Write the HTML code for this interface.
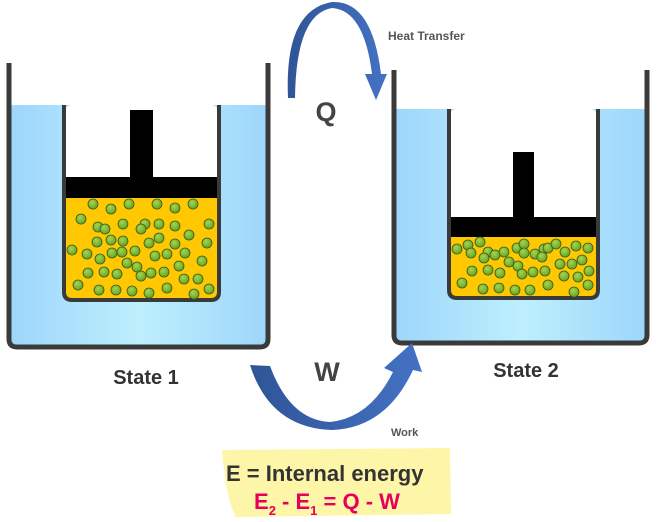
<!DOCTYPE html>
<html><head><style>body{margin:0;background:#fff}svg{display:block}</style></head><body>
<svg width="659" height="522" viewBox="0 0 659 522" xmlns="http://www.w3.org/2000/svg" font-family="Liberation Sans, sans-serif">
<defs>
<linearGradient id="wg" x1="0" x2="1"><stop offset="0" stop-color="#9dd6fb"/><stop offset="0.5" stop-color="#bdeffd"/><stop offset="1" stop-color="#9dd6fb"/></linearGradient>
<linearGradient id="ag" x1="0" x2="1"><stop offset="0" stop-color="#2f5597"/><stop offset="1" stop-color="#4472c4"/></linearGradient>
<radialGradient id="mg" cx="0.4" cy="0.35" r="0.6"><stop offset="0" stop-color="#a6d64a"/><stop offset="1" stop-color="#6aa82a"/></radialGradient>
</defs>
<!-- left beaker -->
<path d="M9 105 H268 V339 Q268 347 260 347 H17 Q9 347 9 339Z" fill="url(#wg)"/>
<path d="M9 63 V339 Q9 347 17 347 H260 Q268 347 268 339 V63" fill="none" stroke="#3a3a3a" stroke-width="5"/>
<path d="M64 105 H219 V105Z" fill="#fff"/>
<rect x="64" y="105" width="155" height="195" rx="8" fill="#fff"/>
<path d="M64 198 H219 V292 Q219 300 211 300 H72 Q64 300 64 292Z" fill="#ffc800"/>
<rect x="64" y="177" width="155" height="21" fill="#000"/>
<rect x="130" y="110" width="23" height="68" fill="#000"/>
<path d="M64 105 V292 Q64 300 72 300 H211 Q219 300 219 292 V105" fill="none" stroke="#3a3a3a" stroke-width="4"/>
<g fill="url(#mg)" stroke="#3a5a1a" stroke-width="0.8">
<circle cx="93" cy="204" r="5"/><circle cx="111" cy="209" r="5"/><circle cx="129" cy="204" r="5"/><circle cx="157" cy="204" r="5"/><circle cx="175" cy="208" r="5"/><circle cx="193" cy="204" r="5"/>
<circle cx="81" cy="219" r="5"/><circle cx="98" cy="227" r="5"/><circle cx="105" cy="229" r="5"/><circle cx="123" cy="224" r="5"/><circle cx="145" cy="224" r="5"/><circle cx="141" cy="229" r="5"/><circle cx="159" cy="224" r="5"/><circle cx="175" cy="226" r="5"/><circle cx="209" cy="224" r="5"/>
<circle cx="97" cy="242" r="5"/><circle cx="111" cy="240" r="5"/><circle cx="123" cy="241" r="5"/><circle cx="149" cy="243" r="5"/><circle cx="159" cy="238" r="5"/><circle cx="175" cy="244" r="5"/><circle cx="189" cy="235" r="5"/><circle cx="207" cy="243" r="5"/>
<circle cx="72" cy="250" r="5"/><circle cx="87" cy="254" r="5"/><circle cx="100" cy="259" r="5"/><circle cx="112" cy="253" r="5"/><circle cx="122" cy="252" r="5"/><circle cx="135" cy="251" r="5"/><circle cx="155" cy="256" r="5"/><circle cx="167" cy="254" r="5"/><circle cx="185" cy="253" r="5"/><circle cx="202" cy="261" r="5"/>
<circle cx="88" cy="273" r="5"/><circle cx="104" cy="272" r="5"/><circle cx="117" cy="274" r="5"/><circle cx="127" cy="263" r="5"/><circle cx="137" cy="267" r="5"/><circle cx="141" cy="276" r="5"/><circle cx="151" cy="273" r="5"/><circle cx="164" cy="272" r="5"/><circle cx="179" cy="266" r="5"/><circle cx="184" cy="279" r="5"/><circle cx="198" cy="279" r="5"/>
<circle cx="78" cy="285" r="5"/><circle cx="99" cy="290" r="5"/><circle cx="116" cy="290" r="5"/><circle cx="132" cy="291" r="5"/><circle cx="149" cy="293" r="5"/><circle cx="167" cy="288" r="5"/><circle cx="194" cy="294" r="5"/><circle cx="209" cy="289" r="5"/>
</g>
<!-- right beaker -->
<path d="M394 109 H647 V335 Q647 343 639 343 H402 Q394 343 394 335Z" fill="url(#wg)"/>
<path d="M394 70 V335 Q394 343 402 343 H639 Q647 343 647 335 V70" fill="none" stroke="#3a3a3a" stroke-width="5"/>
<rect x="449" y="109" width="149" height="189" rx="8" fill="#fff"/>
<path d="M449 237 H598 V290 Q598 298 590 298 H457 Q449 298 449 290Z" fill="#ffc800"/>
<rect x="449" y="217" width="149" height="20" fill="#000"/>
<rect x="513" y="152" width="21" height="66" fill="#000"/>
<path d="M449 109 V290 Q449 298 457 298 H590 Q598 298 598 290 V109" fill="none" stroke="#3a3a3a" stroke-width="4"/>
<g fill="url(#mg)" stroke="#3a5a1a" stroke-width="0.8">
<circle cx="457" cy="249" r="5"/><circle cx="468" cy="245" r="5"/><circle cx="471" cy="253" r="5"/><circle cx="480" cy="242" r="5"/><circle cx="488" cy="252" r="5"/><circle cx="495" cy="255" r="5"/><circle cx="504" cy="252" r="5"/><circle cx="517" cy="248" r="5"/><circle cx="524" cy="244" r="5"/><circle cx="524" cy="253" r="5"/><circle cx="535" cy="254" r="5"/><circle cx="544" cy="249" r="5"/><circle cx="548" cy="248" r="5"/><circle cx="556" cy="244" r="5"/><circle cx="565" cy="252" r="5"/><circle cx="576" cy="246" r="5"/><circle cx="588" cy="248" r="5"/><circle cx="484" cy="258" r="5"/><circle cx="509" cy="262" r="5"/>
<circle cx="518" cy="266" r="5"/><circle cx="542" cy="257" r="5"/><circle cx="560" cy="264" r="5"/><circle cx="572" cy="264" r="5"/><circle cx="582" cy="260" r="5"/>
<circle cx="472" cy="271" r="5"/><circle cx="488" cy="270" r="5"/><circle cx="500" cy="273" r="5"/><circle cx="522" cy="274" r="5"/><circle cx="533" cy="272" r="5"/><circle cx="545" cy="271" r="5"/><circle cx="564" cy="276" r="5"/><circle cx="578" cy="277" r="5"/><circle cx="589" cy="271" r="5"/>
<circle cx="462" cy="283" r="5"/><circle cx="483" cy="289" r="5"/><circle cx="499" cy="288" r="5"/><circle cx="515" cy="290" r="5"/><circle cx="530" cy="290" r="5"/><circle cx="548" cy="285" r="5"/><circle cx="574" cy="292" r="5"/><circle cx="588" cy="285" r="5"/>
</g>
<!-- Q arrow -->
<path d="M288 98 Q284 10 332 2 Q372 0 381 74 L387 74 L376 100 L365 74 L372 74 Q364 10 332 8 Q296 14 295 98Z" fill="url(#ag)"/>
<!-- W arrow -->
<path d="M250 365 L270 366 Q290 420 330 422 Q370 418 393 372 L384 368 L412 343 L422 372 L413 370 Q386 428 332 430 Q270 428 250 365Z" fill="url(#ag)"/>
<text x="326" y="121" font-size="27" font-weight="bold" fill="#444" text-anchor="middle">Q</text>
<text x="327" y="381" font-size="27" font-weight="bold" fill="#444" text-anchor="middle">W</text>
<text x="388" y="40" font-size="12" font-weight="bold" fill="#555">Heat Transfer</text>
<text x="391" y="436" font-size="11" font-weight="bold" fill="#555">Work</text>
<text x="146" y="384" font-size="20" font-weight="bold" fill="#333" text-anchor="middle">State 1</text>
<text x="526" y="377" font-size="20" font-weight="bold" fill="#333" text-anchor="middle">State 2</text>
<path d="M222 450 L450 448 L451 514 L236 517 Q226 500 222 450Z" fill="#fdf6a8"/>
<text x="226" y="481" font-size="22" font-weight="bold" fill="#333">E = Internal energy</text>
<text x="254" y="509" font-size="22" font-weight="bold" fill="#e6005c">E<tspan font-size="13" dy="6">2</tspan><tspan dy="-6"> - E</tspan><tspan font-size="13" dy="6">1</tspan><tspan dy="-6"> = Q - W</tspan></text>
</svg>
</body></html>
